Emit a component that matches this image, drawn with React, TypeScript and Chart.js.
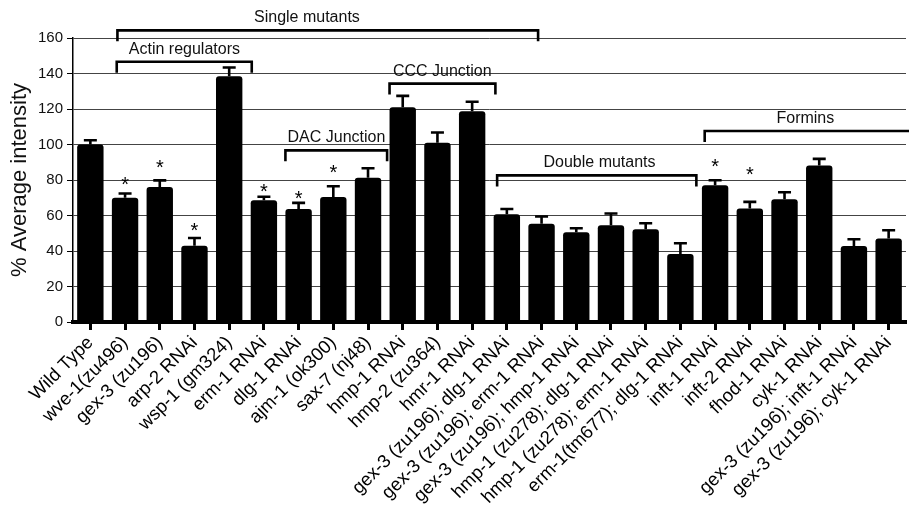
import React, { useEffect, useRef } from 'react';
import { Chart, registerables } from 'chart.js';

Chart.register(...registerables);

const FONT = '"Liberation Sans", Arial, Helvetica, sans-serif';

const categories = [
  'Wild Type',
  'wve-1(zu496)',
  'gex-3 (zu196)',
  'arp-2 RNAi',
  'wsp-1 (gm324)',
  'erm-1 RNAi',
  'dlg-1 RNAi',
  'ajm-1 (ok300)',
  'sax-7 (nj48)',
  'hmp-1 RNAi',
  'hmp-2 (zu364)',
  'hmr-1 RNAi',
  'gex-3 (zu196); dlg-1 RNAi',
  'gex-3 (zu196); erm-1 RNAi',
  'gex-3 (zu196); hmp-1 RNAi',
  'hmp-1 (zu278); dlg-1 RNAi',
  'hmp-1 (zu278); erm-1 RNAi',
  'erm-1(tm677); dlg-1 RNAi',
  'inft-1 RNAi',
  'inft-2 RNAi',
  'fhod-1 RNAi',
  'cyk-1 RNAi',
  'gex-3 (zu196); inft-1 RNAi',
  'gex-3 (zu196); cyk-1 RNAi',
];

const means = [
  100, 70, 76, 43, 138.4, 68.6, 63.7, 70.4, 81.3, 121, 101, 118.7,
  60.7, 55.4, 50.5, 54.5, 52.2, 38.3, 77, 63.9, 69.1, 88.1, 42.8, 47,
];

const sems = [
  2.4, 2.4, 3.8, 4.3, 5, 2, 3.4, 6.1, 5.3, 6.4, 5.8, 5.4,
  3, 4, 2.3, 6.6, 3.4, 6.1, 2.9, 3.8, 4, 3.8, 3.8, 4.7,
];

// y value (data units) of the centre of each significance asterisk
const starValues: (number | null)[] = [
  null, 80.4, 90.2, 54.9, null, 76.4, 72.9, 87.3, null, null, null, null,
  null, null, null, null, null, null, 90.5, 86, null, null, null, null,
];

const yTicks = [0, 20, 40, 60, 80, 100, 120, 140, 160];

const bracketNames = ['Single mutants', 'Actin regulators', 'DAC Junction', 'CCC Junction', 'Double mutants', 'Formins'];
const bracketStart = [0.78, 0.76, 5.62, 8.62, 11.72, 17.7];
const bracketEnd = [12.9, 4.65, 8.55, 11.67, 17.46, 24.2];
const bracketLevel = [164.3, 146.6, 96.7, 134.3, 82.6, 107.6];
const bracketLabelAt = [6.24, 2.71, 7.09, 10.14, 14.67, 20.6];

const overlayPlugin = {
  id: 'overlay',
  afterDatasetsDraw(chart: any) {
    const ctx = chart.ctx as CanvasRenderingContext2D;
    const xs = chart.scales.x;
    const ys = chart.scales.y;
    const meta = chart.getDatasetMeta(0);
    ctx.save();
    ctx.strokeStyle = '#000';
    ctx.fillStyle = '#000';
    ctx.lineWidth = 2.6;
    ctx.lineCap = 'butt';
    // error bars (upper whisker only)
    meta.data.forEach((bar: any, i: number) => {
      const bx = bar.x;
      const top = ys.getPixelForValue(means[i]);
      const et = ys.getPixelForValue(means[i] + sems[i]);
      ctx.beginPath();
      ctx.moveTo(bx, top);
      ctx.lineTo(bx, et);
      ctx.moveTo(bx - 6.5, et);
      ctx.lineTo(bx + 6.5, et);
      ctx.stroke();
    });
    // asterisks
    const starSize = 20;
    ctx.font = `${starSize}px ${FONT}`;
    ctx.textAlign = 'center';
    ctx.textBaseline = 'alphabetic';
    starValues.forEach((v, i) => {
      if (v == null) return;
      ctx.fillText('*', meta.data[i].x, ys.getPixelForValue(v) + 0.6 * starSize);
    });
    // brackets
    const p0 = xs.getPixelForValue(0);
    const step = xs.getPixelForValue(1) - p0;
    const idx = (f: number) => p0 + f * step;
    ctx.lineWidth = 2.6;
    ctx.lineJoin = 'miter';
    ctx.font = `16px ${FONT}`;
    ctx.textBaseline = 'middle';
    bracketNames.forEach((name, i) => {
      const x1 = idx(bracketStart[i]);
      const x2 = idx(bracketEnd[i]);
      const yy = ys.getPixelForValue(bracketLevel[i]);
      ctx.beginPath();
      ctx.moveTo(x1, yy + 11);
      ctx.lineTo(x1, yy);
      ctx.lineTo(x2, yy);
      ctx.lineTo(x2, yy + 11);
      ctx.stroke();
      ctx.fillStyle = '#111';
      ctx.fillText(name, idx(bracketLabelAt[i]), yy - 12.5);
    });
    ctx.restore();
  },
};

export default function App() {
  const ref = useRef<HTMLCanvasElement | null>(null);
  useEffect(() => {
    if (!ref.current) return;
    Chart.defaults.font.family = FONT;
    const chart = new Chart(ref.current, {
      type: 'bar',
      data: {
        labels: categories,
        datasets: [
          {
            data: means,
            backgroundColor: '#000',
            borderColor: '#000',
            borderWidth: 0,
            borderRadius: 3,
            borderSkipped: 'bottom',
            categoryPercentage: 1,
            barPercentage: 0.76,
          },
        ],
      },
      options: {
        responsive: false,
        animation: false,
        layout: { padding: { top: 38, right: 3, left: 0, bottom: 0 } },
        plugins: {
          legend: { display: false },
          tooltip: { enabled: false },
          title: { display: false },
        },
        scales: {
          x: {
            offset: true,
            grid: {
              display: true,
              drawOnChartArea: false,
              offset: false,
              tickLength: 8,
              tickWidth: 3,
              tickColor: '#000',
              color: '#000',
            },
            border: { display: true, color: '#000', width: 4 },
            ticks: {
              autoSkip: false,
              maxRotation: 45,
              minRotation: 45,
              padding: 2,
              color: '#000',
              font: { size: 18.5, family: FONT },
            },
            afterFit: (scale: any) => {
              scale.height = 186;
            },
          },
          y: {
            min: 0,
            max: 160,
            afterBuildTicks: (scale: any) => {
              scale.ticks = yTicks.map((v) => ({ value: v }));
            },
            grid: {
              color: '#444',
              lineWidth: 1,
              tickLength: 6,
              tickColor: '#000',
            },
            border: { display: true, color: '#000', width: 1.5 },
            ticks: {
              padding: 4,
              color: '#111',
              font: { size: 15, family: FONT },
            },
            title: {
              display: true,
              text: '% Average intensity',
              color: '#111',
              font: { size: 22, family: FONT },
              padding: { top: 7, bottom: 0 },
            },
            afterFit: (scale: any) => {
              scale.width = 73;
            },
          },
        },
      },
      plugins: [overlayPlugin],
    });
    return () => chart.destroy();
  }, []);
  return (
    <div style={{ position: 'absolute', left: 0, top: 0, width: 909, height: 508, background: '#fff' }}>
      <canvas ref={ref} width={909} height={508} style={{ display: 'block' }} />
    </div>
  );
}
